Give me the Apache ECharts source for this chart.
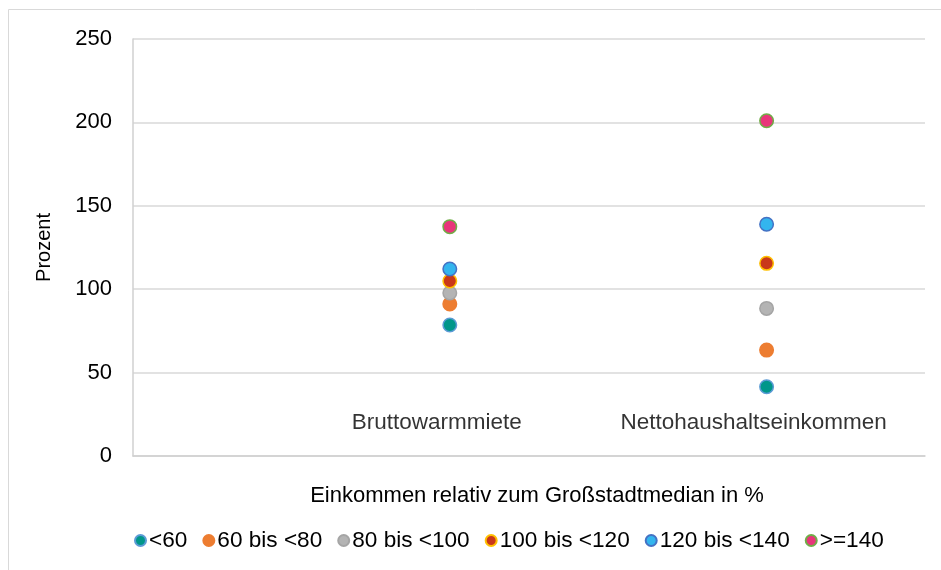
<!DOCTYPE html>
<html>
<head>
<meta charset="utf-8">
<script src="https://cdn.jsdelivr.net/npm/echarts@6/dist/echarts.min.js"></script>
<style>
  html, body { margin: 0; padding: 0; background: #fff; }
  #chart { width: 941px; height: 570px; }
</style>
</head>
<body>
<div id="chart"></div>
<script>
// categories on the x value axis (x = 1, 2)
const categories = ['Bruttowarmmiete', 'Nettohaushaltseinkommen']
const categoryX = [1, 2]
const labelY = 20

const groups = ['<60', '60 bis <80', '80 bis <100', '100 bis <120', '120 bis <140', '>=140']
// values per group: [Bruttowarmmiete, Nettohaushaltseinkommen]
const lt60 = [78.5, 41.5]
const from60 = [91.1, 63.5]
const from80 = [97.7, 88.5]
const from100 = [104.9, 115.5]
const from120 = [112.1, 138.9]
const ge140 = [137.5, 201]

const yTicks = [0, 50, 100, 150, 200, 250]

const groupValues = [lt60, from60, from80, from100, from120, ge140]
const fills = ['#00968A', '#ED7D31', '#B4B4B4', '#C9381A', '#33B5EE', '#E8357A']
const borders = ['#5B9BD5', '#ED7D31', '#A5A5A5', '#FFC000', '#4472C4', '#70AD47']

const font = 'Liberation Sans, Arial, sans-serif'

const chart = echarts.init(document.getElementById('chart'))

const series = groups.map((name, i) => ({
  name,
  type: 'scatter',
  symbol: 'circle',
  symbolSize: 13.5,
  itemStyle: {
    color: fills[i],
    borderColor: borders[i],
    borderWidth: 1.5,
    opacity: 1
  },
  emphasis: {disabled: true},
  data: categoryX.map((x, j) => [x, groupValues[i][j]])
}))

// hidden series carrying the category names as labels
series.push({
  name: 'labels',
  type: 'scatter',
  symbolSize: 1,
  silent: true,
  itemStyle: {color: 'rgba(0,0,0,0)'},
  data: categoryX.map((x, j) => ({value: [x, labelY], name: categories[j]})),
  label: {
    show: true,
    position: 'top',
    distance: 0,
    offset: [-13, 12],
    formatter: p => p.name,
    color: '#000',
    textBorderWidth: 0,
    fontSize: 22.5,
    fontFamily: font
  }
})

const option = {
  animation: false,
  textStyle: {fontFamily: font},
  graphic: [
    {
      type: 'rect',
      shape: {x: 8.5, y: 9.5, width: 1000, height: 1000},
      style: {fill: 'none', stroke: '#D9D9D9', lineWidth: 1}
    }
  ],
  grid: {
    left: 133,
    right: 16,
    top: 39,
    bottom: 114
  },
  legend: {
    top: 524,
    left: 129,
    icon: 'circle',
    itemWidth: 11,
    itemHeight: 11,
    itemGap: 15,
    data: groups,
    textStyle: {
      color: '#000',
      fontSize: 22.6,
      fontFamily: font,
      padding: [0, 0, 0, -2]
    }
  },
  xAxis: {
    type: 'value',
    min: 0,
    max: 2.5,
    name: 'Einkommen relativ zum Großstadtmedian in %',
    nameLocation: 'middle',
    nameGap: 29,
    nameTextStyle: {color: '#000', fontSize: 22, fontFamily: font, padding: [0, 0, 0, 16]},
    axisLine: {show: true, lineStyle: {color: '#D0D0D0', width: 1.5}},
    axisTick: {show: false},
    axisLabel: {show: false},
    splitLine: {show: false}
  },
  yAxis: {
    type: 'value',
    min: yTicks[0],
    max: yTicks[yTicks.length - 1],
    interval: 50,
    name: 'Prozent',
    nameLocation: 'middle',
    nameRotate: 90,
    nameGap: 79,
    nameTextStyle: {color: '#000', fontSize: 20, fontFamily: font},
    axisLine: {show: true, lineStyle: {color: '#D0D0D0', width: 1.5}},
    axisTick: {show: false},
    axisLabel: {
      color: '#000',
      fontSize: 22,
      fontFamily: font,
      margin: 21
    },
    splitLine: {show: true, lineStyle: {color: '#D9D9D9', width: 1.5}}
  },
  series
}

chart.setOption(option)
</script>
</body>
</html>
